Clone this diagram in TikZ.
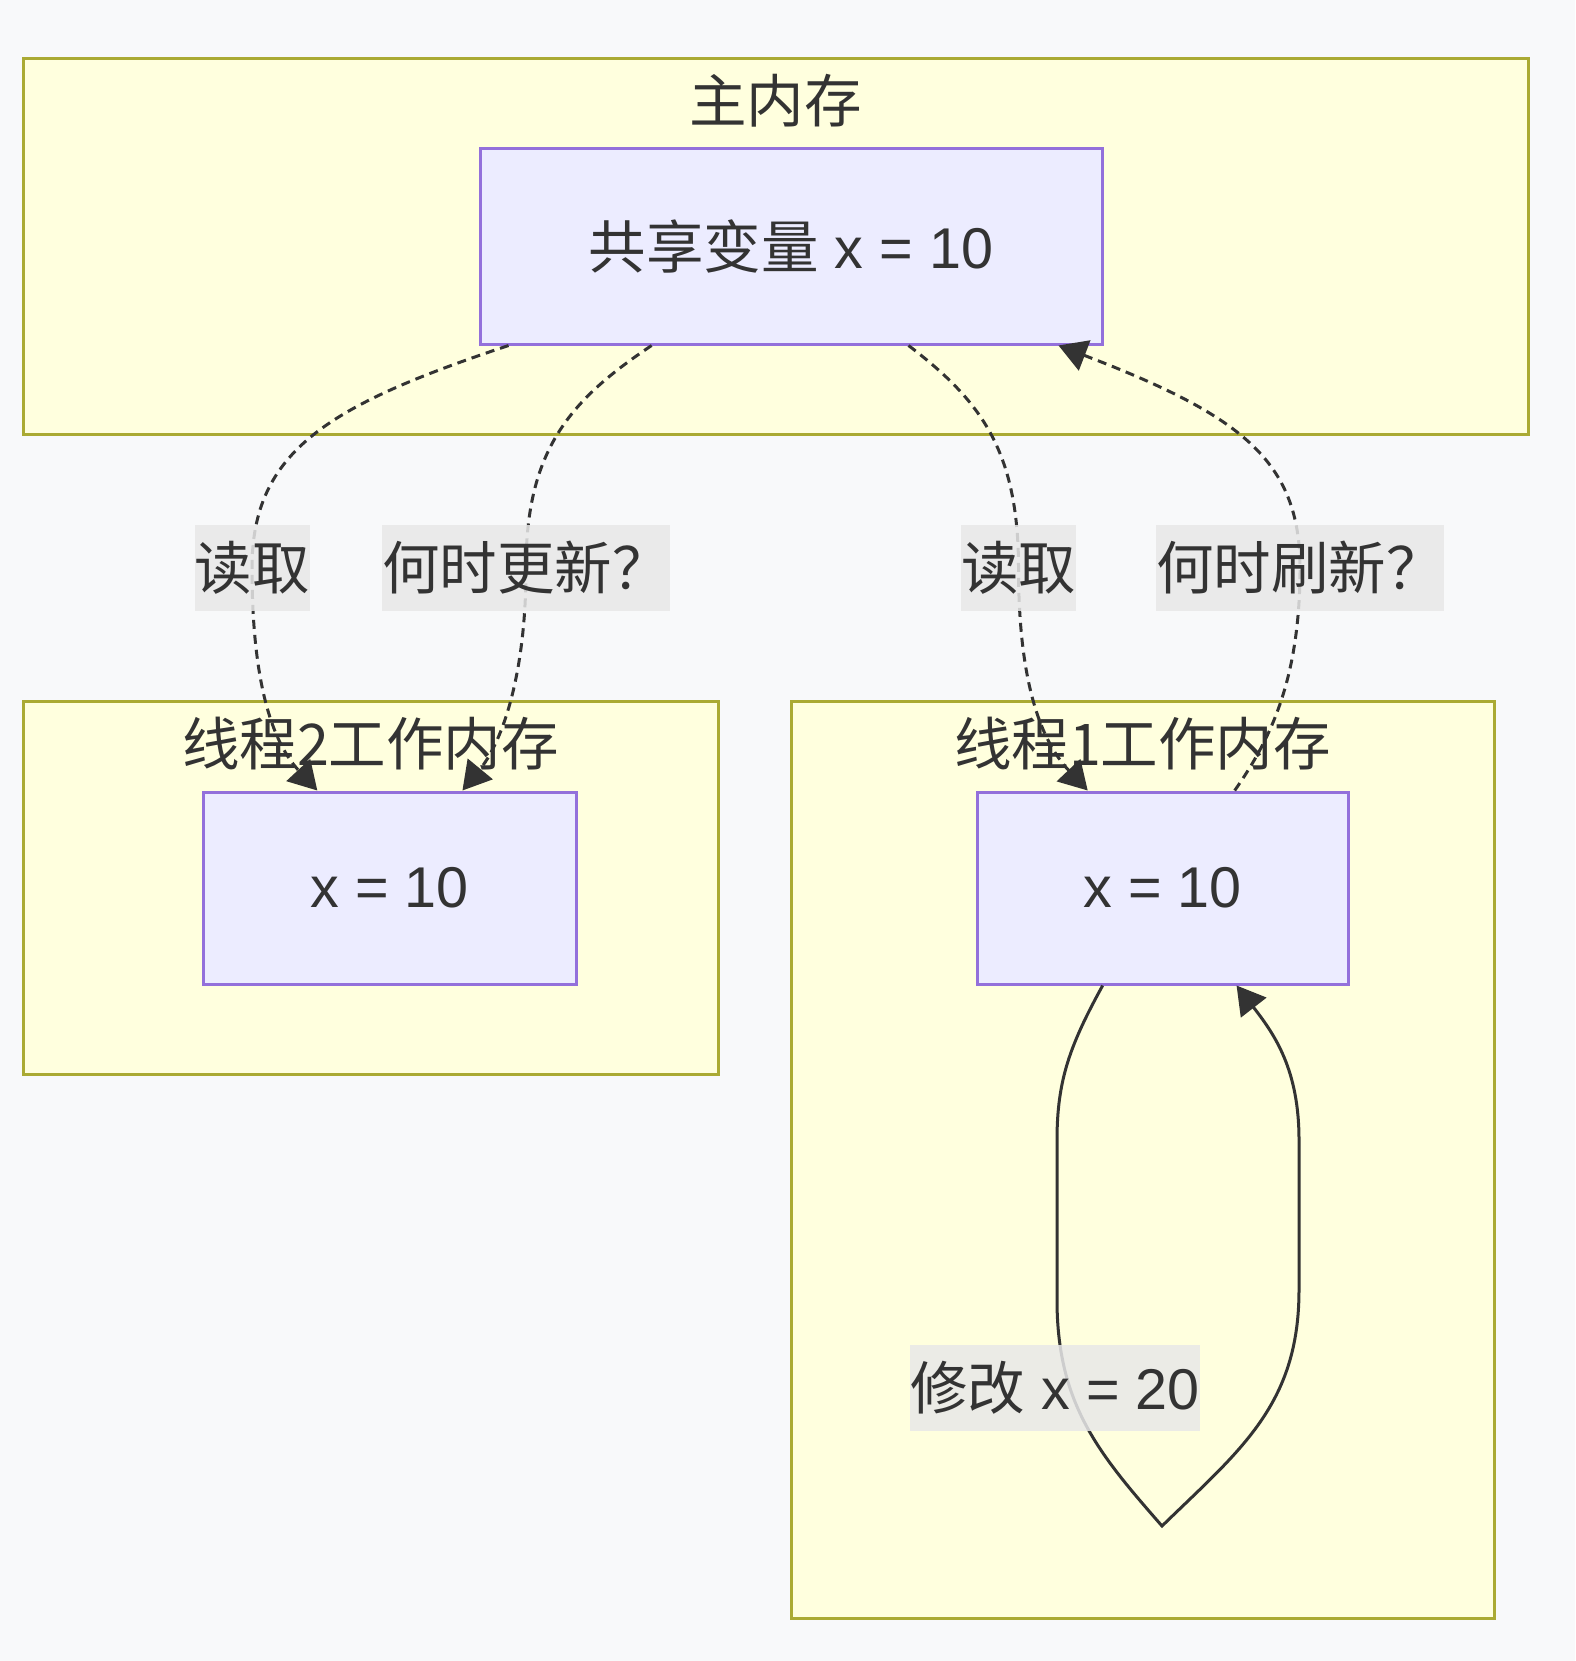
\documentclass[tikz,border=0pt]{standalone}
\usepackage{fontspec}
\setmainfont{Liberation Sans}
\newfontfamily\cjk{Noto Sans CJK SC}
\usetikzlibrary{arrows.meta,calc}
\definecolor{bgc}{HTML}{F8F9FA}
\definecolor{clfill}{HTML}{FFFFDE}
\definecolor{clline}{HTML}{AAAA33}
\definecolor{ndfill}{HTML}{ECECFF}
\definecolor{ndline}{HTML}{9370DB}
\definecolor{txt}{HTML}{333333}
\definecolor{lblbg}{HTML}{E8E8E8}
\begin{document}
\begin{tikzpicture}[x=1pt,y=-1pt,
  font=\fontsize{57.5pt}{69pt}\selectfont, text=txt,
  cluster/.style={draw=clline, fill=clfill, line width=3pt, inner sep=0pt, rectangle},
  vnode/.style={draw=ndline, fill=ndfill, line width=3pt, inner sep=0pt, rectangle},
  ctitle/.style={inner sep=0pt},
  elabel/.style={fill=lblbg, fill opacity=0.85, text opacity=1, inner sep=0pt, minimum height=86pt},
  flow/.style={draw=txt, line width=3pt, dash pattern=on 9pt off 6pt, -{Triangle[length=28pt,width=32pt]}},
  solidflow/.style={draw=txt, line width=3pt, -{Triangle[length=28pt,width=32pt]}}]
\fill[bgc] (0,0) rectangle (1575,1661);
\useasboundingbox (0,0) rectangle (1575,1661);

% clusters
\node[cluster, minimum width=1505pt, minimum height=375pt] (mainc) at (775.5,246.5) {};
\node[cluster, minimum width=695pt, minimum height=373pt] (t2c) at (370.5,887.5) {};
\node[cluster, minimum width=703pt, minimum height=917pt] (t1c) at (1142.5,1159.5) {};

% nodes
\node[vnode, minimum width=622pt, minimum height=195pt] (shared) at (791,246.5) {{\cjk 共享变量} x = 10};
\node[vnode, minimum width=373pt, minimum height=192pt] (t2) at (389.5,888) {x = 10};
\node[vnode, minimum width=371pt, minimum height=192pt] (t1) at (1162.5,888) {x = 10};

% cluster titles
\node[ctitle] (mainT) at ($(mainc.north)+(0,43)$) {\cjk 主内存};
\node[ctitle] (t2T) at ($(t2c.north)+(0,44)$) {\cjk 线程2工作内存};
\node[ctitle] (t1T) at ($(t1c.north)+(0,44)$) {\cjk 线程1工作内存};

% label positions
\coordinate (p1) at (252,568);
\coordinate (p2) at (526,568);
\coordinate (p3) at (1018.5,568);
\coordinate (p4) at (1300,568);
\coordinate (p5) at (1055,1388);

% edges
\draw[flow] ($(shared.south west)!0.048!(shared.south east)$) .. controls (330,405) and (252,450) .. (p1)
  .. controls (252,690) and (275,745) .. ($(t2.north west)!0.308!(t2.north east)$);
\draw[flow] ($(shared.south west)!0.277!(shared.south east)$) .. controls (570,400) and (526,450) .. (p2)
  .. controls (526,680) and (500,745) .. ($(t2.north west)!0.694!(t2.north east)$);
\draw[flow] ($(shared.south west)!0.688!(shared.south east)$) .. controls (980,400) and (1018.5,450) .. (p3)
  .. controls (1018.5,680) and (1040,740) .. ($(t1.north west)!0.30!(t1.north east)$);
\draw[flow] ($(t1.north west)!0.693!(t1.north east)$) .. controls (1270,740) and (1300,680) .. (p4)
  .. controls (1300,460) and (1240,415) .. ($(shared.south west)!0.928!(shared.south east)$);
\draw[solidflow] ($(t1.south west)!0.34!(t1.south east)$) .. controls (1070,1045) and (1057,1080) .. (1057,1140)
  -- (1057,1300) .. controls (1057,1405) and (1100,1455) .. (1162,1526)
  .. controls (1240,1450) and (1299,1405) .. (1299,1290) -- (1299,1140)
  .. controls (1299,1070) and (1275,1035) .. ($(t1.south west)!0.698!(t1.south east)$);

% edge labels
\node[elabel] (l1) at (p1) {\cjk 读取};
\node[elabel] (l2) at (p2) {\cjk 何时更新？};
\node[elabel] (l3) at (p3) {\cjk 读取};
\node[elabel] (l4) at (p4) {\cjk 何时刷新？};
\node[elabel] (l5) at (p5) {{\cjk 修改} x = 20};
\end{tikzpicture}
\end{document}
